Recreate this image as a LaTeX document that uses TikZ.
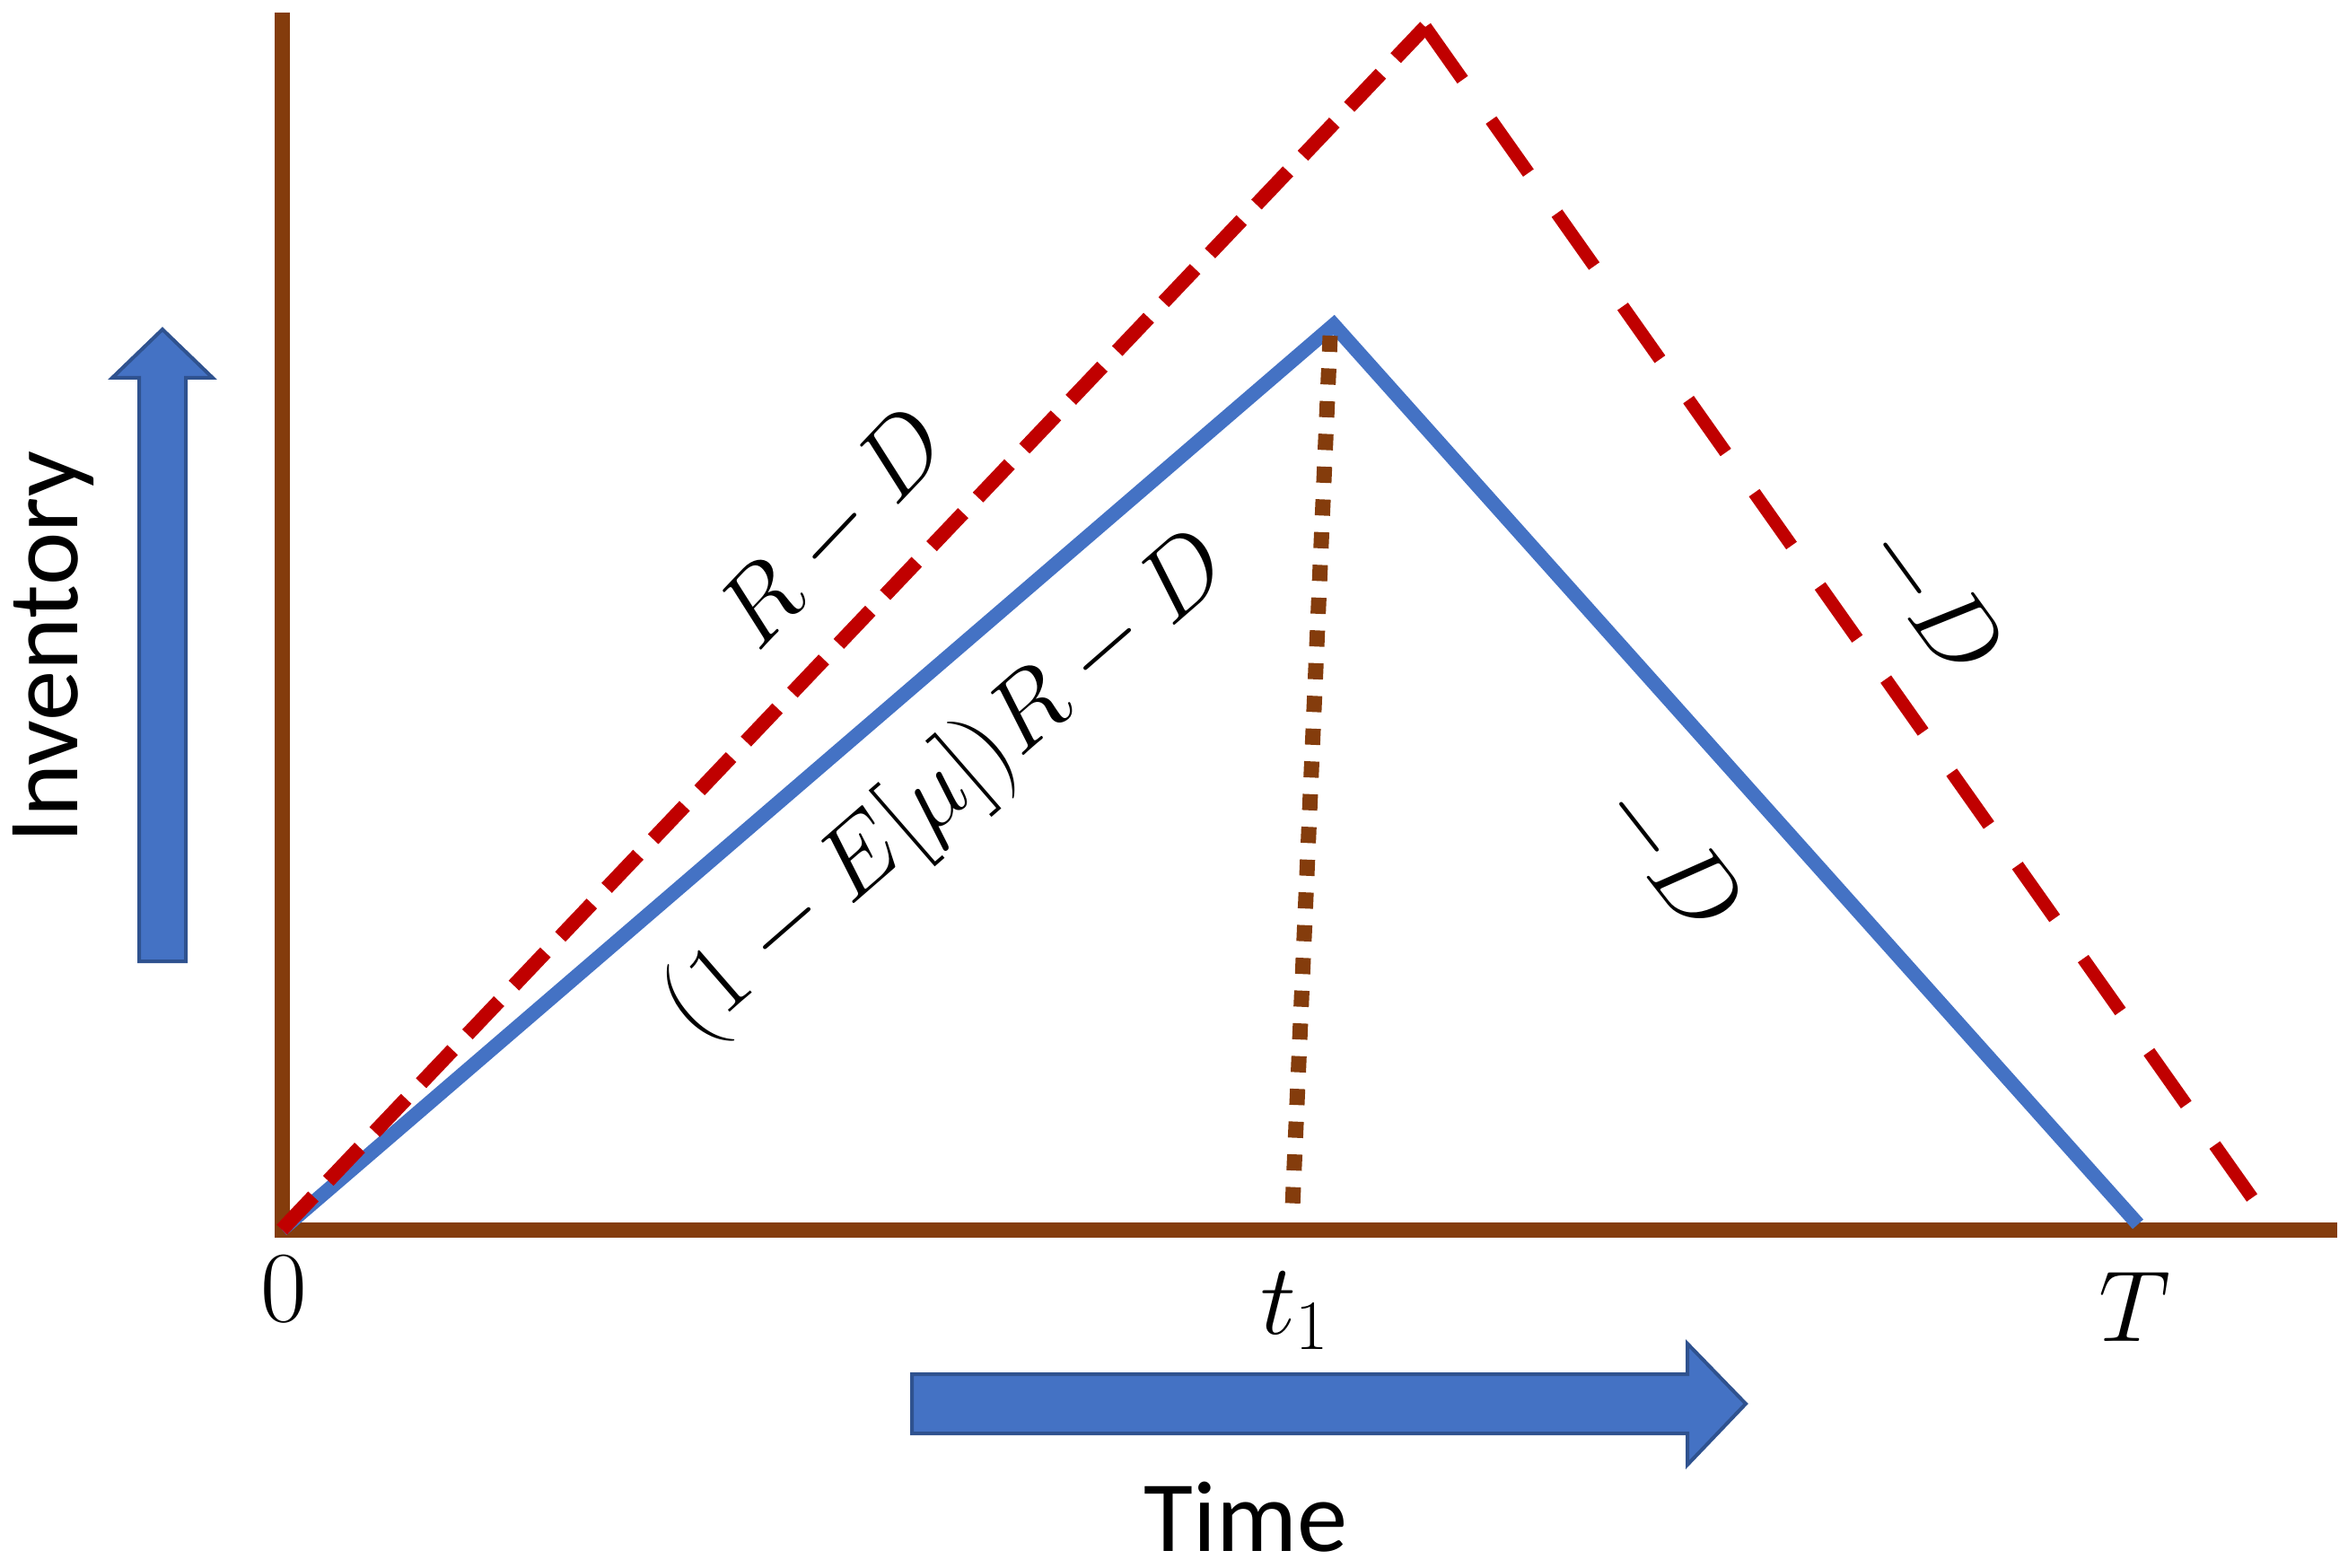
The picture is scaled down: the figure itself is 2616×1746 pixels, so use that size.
\RequirePackage{fix-cm}
\documentclass[tikz,border=0pt]{standalone}
\usepackage{fontspec}
\newfontfamily\calibfont{Carlito}
\definecolor{axisbrown}{HTML}{843C0C}
\definecolor{redline}{HTML}{C00000}
\definecolor{blueline}{HTML}{4472C4}
\definecolor{arrowedge}{HTML}{2F528F}
\begin{document}
\begin{tikzpicture}[x=0.01cm,y=-0.01cm,
  axis/.style={draw=axisbrown,line width=0.17cm,line join=miter},
  reddashup/.style={draw=redline,line width=0.16cm,dash pattern=on 0.51cm off 0.24cm},
  reddashdown/.style={draw=redline,line width=0.145cm,dash pattern=on 0.72cm off 0.55cm},
  blueln/.style={draw=blueline,line width=0.16cm,line join=miter},
  browndot/.style={draw=axisbrown,line width=0.17cm,dash pattern=on 0.18cm off 0.185cm},
  bigarrow/.style={fill=blueline,draw=arrowedge,line width=0.04cm},
  mathlbl/.style={font=\fontsize{32}{38}\selectfont,inner sep=0pt},
  wordlbl/.style={font=\calibfont\fontsize{32}{38}\selectfont,inner sep=0pt}]
\useasboundingbox (0,0) rectangle (2616,1746);
\coordinate (O) at (314,1370);
\coordinate (Ytop) at (314,14);
\coordinate (Xend) at (2604,1370);
\coordinate (Rpeak) at (1588,30);
\coordinate (Rend) at (2515,1343);
\coordinate (Bpeak) at (1486,362);
\coordinate (Bend) at (2382,1364);
\coordinate (Dtop) at (1482,374);
\coordinate (Dbot) at (1440,1345);
% axes
\draw[axis] (Ytop) -- (O) -- (Xend);
% curves
\draw[blueln] (O) -- (Bpeak) -- (Bend);
\draw[reddashup] (O) -- (Rpeak);
\draw[reddashdown] (Rpeak) -- (Rend);
\draw[browndot] (Dtop) -- (Dbot);
% slope labels
\node[mathlbl,rotate=46.5] (lRD) at (929,590) {$R-D$};
\node[mathlbl,rotate=41] (lER) at (1057,878) {$(1-E[\mu])R-D$};
\node[mathlbl,rotate=-54] (lD1) at (2152,668) {$-D$};
\node[mathlbl,rotate=-52] (lD2) at (1860,955) {$-D$};
% tick labels
\node[mathlbl] (l0) at (316,1436) {$0$};
\node[mathlbl] (lt1) at (1443,1460) {$t_1$};
\node[mathlbl] (lT) at (2378,1456) {$T$};
% axis words
\node[wordlbl,anchor=base] (ltime) at (1388,1728) {Time};
\node[wordlbl,anchor=base,rotate=90] (linv) at (87,721) {Inventory};
% block arrows
\draw[bigarrow] (155,1071) -- (207,1071) -- (207,421) -- (237,421) -- (181,367) -- (125,421) -- (155,421) -- cycle;
\draw[bigarrow] (1016,1531) -- (1880,1531) -- (1880,1497) -- (1945,1564) -- (1880,1632) -- (1880,1597) -- (1016,1597) -- cycle;
\end{tikzpicture}
\end{document}
